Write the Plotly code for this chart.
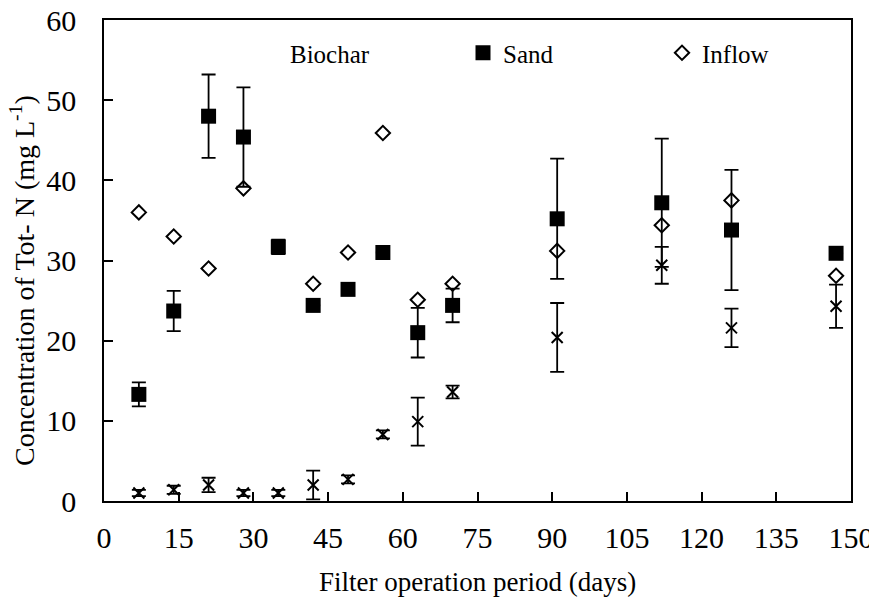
import plotly.graph_objects as go

# ---- data ----
days = [7, 14, 21, 28, 35, 42, 49, 56, 63, 70, 91, 112, 126, 147]
sand = [13.3, 23.7, 48.0, 45.4, 31.7, 24.4, 26.4, 31.0, 21.0, 24.4, 35.2, 37.2, 33.8, 30.9]
sand_err = [1.5, 2.5, 5.2, 6.2, 0.9, 0, 0, 0, 3.1, 2.1, 7.5, 8.0, 7.5, 0]
biochar = [1.0, 1.4, 2.0, 1.0, 1.0, 2.0, 2.7, 8.3, 9.9, 13.6, 20.4, 29.4, 21.6, 24.3]
biochar_err = [0.4, 0.5, 0.9, 0.4, 0.4, 1.8, 0.5, 0.5, 3.0, 0.8, 4.3, 2.3, 2.4, 2.7]
inflow_days = [7, 14, 21, 28, 42, 49, 56, 63, 70, 91, 112, 126, 147]
inflow = [36.0, 33.0, 29.0, 39.0, 27.1, 31.0, 45.9, 25.1, 27.1, 31.2, 34.4, 37.5, 28.1]

x_ticks = [0, 15, 30, 45, 60, 75, 90, 105, 120, 135, 150]
y_ticks = [0, 10, 20, 30, 40, 50, 60]

FONT = "Liberation Serif, Times New Roman, serif"
OFF = 8                      # page body margin offset
W, H = 877 - OFF, 597 - OFF
L, R, T, B = 104 - OFF, 26, 20 - OFF, 96

fig = go.Figure()

fig.add_trace(go.Scatter(
    x=days, y=biochar, mode="markers", name="Biochar", showlegend=False,
    marker=dict(symbol="x-thin-open", size=11, color="black", line=dict(width=2, color="black")),
    error_y=dict(type="data", array=biochar_err, visible=True, color="black", thickness=1.8, width=7),
))
fig.add_trace(go.Scatter(
    x=days, y=sand, mode="markers", name="Sand", legend="legend2",
    marker=dict(symbol="square", size=15, color="black"),
    error_y=dict(type="data", array=sand_err, visible=True, color="black", thickness=1.8, width=7),
))
fig.add_trace(go.Scatter(
    x=inflow_days, y=inflow, mode="markers", name="Inflow", legend="legend3",
    marker=dict(symbol="diamond-open", size=11, color="black", line=dict(width=2, color="black")),
))
# legend entry for Biochar (no visible symbol in the reference)
fig.add_trace(go.Scatter(
    x=[None], y=[None], mode="markers", name="Biochar", legend="legend",
    marker=dict(symbol="x-thin-open", size=9, color="white", opacity=0),
))

pw = W - L - R
ph = H - T - B

# convert page pixel positions (reference picture) to paper coordinates
def px_x(p):
    return (p - OFF - L) / pw

def px_y(p):
    return (H - B - (p - OFF)) / ph

leg_common = dict(orientation="h", yanchor="middle", xanchor="left", bgcolor="rgba(0,0,0,0)",
                  borderwidth=0, font=dict(family=FONT, size=25, color="black"))

axis_common = dict(showgrid=False, zeroline=False, showline=True, linecolor="black", linewidth=1.5,
                   mirror=True, ticks="inside", ticklen=9, tickwidth=1.5, tickcolor="black",
                   automargin=False, ticklabeloverflow="allow",
                   tickfont=dict(family=FONT, size=30, color="black"))

fig.update_layout(
    width=W, height=H,
    margin=dict(l=L, r=R, t=T, b=B, autoexpand=False),
    paper_bgcolor="white", plot_bgcolor="white",
    font=dict(family=FONT, color="black"),
    xaxis=dict(range=[0, 150], tickmode="array", tickvals=x_ticks, ticktext=[str(v) for v in x_ticks],
               ticklabelstandoff=9, **axis_common),
    yaxis=dict(range=[0, 60], tickmode="array", tickvals=y_ticks, ticktext=[str(v) for v in y_ticks],
               ticklabelstandoff=20, **axis_common),
    legend=dict(x=px_x(250), y=px_y(53), **leg_common),
    legend2=dict(x=px_x(463), y=px_y(53), **leg_common),
    legend3=dict(x=px_x(662), y=px_y(53), **leg_common),
    annotations=[
        dict(text="Filter operation period (days)", xref="paper", yref="paper",
             x=0.5, y=px_y(582), xanchor="center", yanchor="middle", showarrow=False,
             font=dict(family=FONT, size=27, color="black")),
        dict(text="Concentration of Tot- N (mg L<sup>-1</sup>)", xref="paper", yref="paper",
             x=px_x(22), y=px_y(281), xanchor="center", yanchor="middle", textangle=-90,
             showarrow=False, font=dict(family=FONT, size=28, color="black")),
    ],
)

fig.write_html("out.html")
